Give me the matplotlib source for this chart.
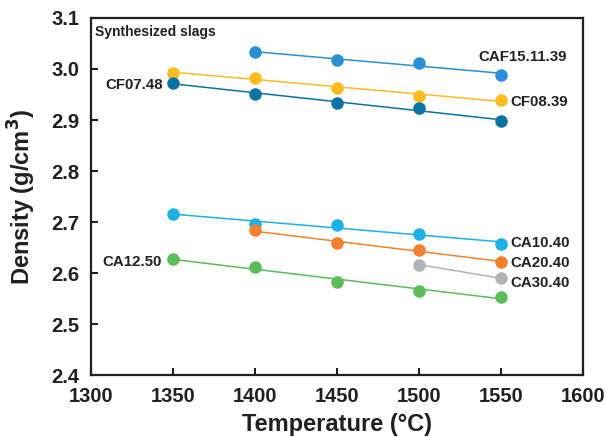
import numpy as np
import matplotlib.pyplot as plt

plt.rcParams["font.family"] = ["Liberation Sans", "DejaVu Sans"]
plt.rcParams["font.weight"] = "bold"

# data
temps = [1350, 1400, 1450, 1500, 1550]

caf15_t = [1400, 1450, 1500, 1550]
caf15 = [3.033, 3.018, 3.012, 2.988]
cf08 = [2.993, 2.983, 2.963, 2.948, 2.939]
cf07 = [2.973, 2.951, 2.933, 2.923, 2.899]
ca10 = [2.716, 2.697, 2.695, 2.677, 2.658]
ca20_t = [1400, 1450, 1500, 1550]
ca20 = [2.684, 2.659, 2.645, 2.623]
ca30_t = [1500, 1550]
ca30 = [2.617, 2.590]
ca12 = [2.627, 2.613, 2.583, 2.566, 2.554]

fig = plt.figure(figsize=(6.06, 4.37), dpi=100)
ax = fig.add_axes([0.150, 0.141, 0.812, 0.818])

series = [
    (caf15_t, caf15, "#2b8fd5"),
    (temps, cf08, "#fdbb1f"),
    (temps, cf07, "#0b73a3"),
    (temps, ca10, "#1cb1e6"),
    (ca20_t, ca20, "#f2802c"),
    (ca30_t, ca30, "#b3b3b5"),
    (temps, ca12, "#5bbc58"),
]
for xs, ys, c in series:
    # straight linear fit through each set
    k, b = np.polyfit(xs, ys, 1)
    xx = np.array([xs[0], xs[-1]])
    ax.plot(xx, k * xx + b, "-", color=c, lw=1.1)
    ax.plot(xs, ys, "o", color=c, ms=8, mec=c)

lab = dict(fontsize=10.8, fontweight="bold", color="#231f20", va="center")
ax.text(1563, 3.023, "CAF15.11.39", ha="center", **lab)
ax.text(1556, 2.935, "CF08.39", ha="left", **lab)
ax.text(1344, 2.969, "CF07.48", ha="right", **lab)
ax.text(1556, 2.659, "CA10.40", ha="left", **lab)
ax.text(1556, 2.620, "CA20.40", ha="left", **lab)
ax.text(1556, 2.580, "CA30.40", ha="left", **lab)
ax.text(1343, 2.622, "CA12.50", ha="right", **lab)
ax.text(1302.5, 3.073, "Synthesized slags", ha="left", **dict(lab, fontsize=10))

ax.set_xlim(1300, 1600)
ax.set_ylim(2.4, 3.1)
ax.set_xticks(range(1300, 1601, 50))
ax.set_yticks([2.4, 2.5, 2.6, 2.7, 2.8, 2.9, 3.0, 3.1])
ax.set_yticklabels(["2.4", "2.5", "2.6", "2.7", "2.8", "2.9", "3.0", "3.1"])
ax.tick_params(direction="in", length=5, width=1.5, labelsize=14.5,
               colors="#231f20", pad=8.5)
for s in ax.spines.values():
    s.set_linewidth(1.6)
    s.set_color("#231f20")

ax.set_xlabel("Temperature (°C)", fontsize=17, fontweight="bold", color="#231f20", labelpad=5)
ax.set_ylabel("Density (g/cm$^\\mathbf{3}$)", fontsize=17, fontweight="bold", color="#231f20")
ax.yaxis.set_label_coords(-0.108, 0.5)

fig.savefig("out.png", dpi=100)
